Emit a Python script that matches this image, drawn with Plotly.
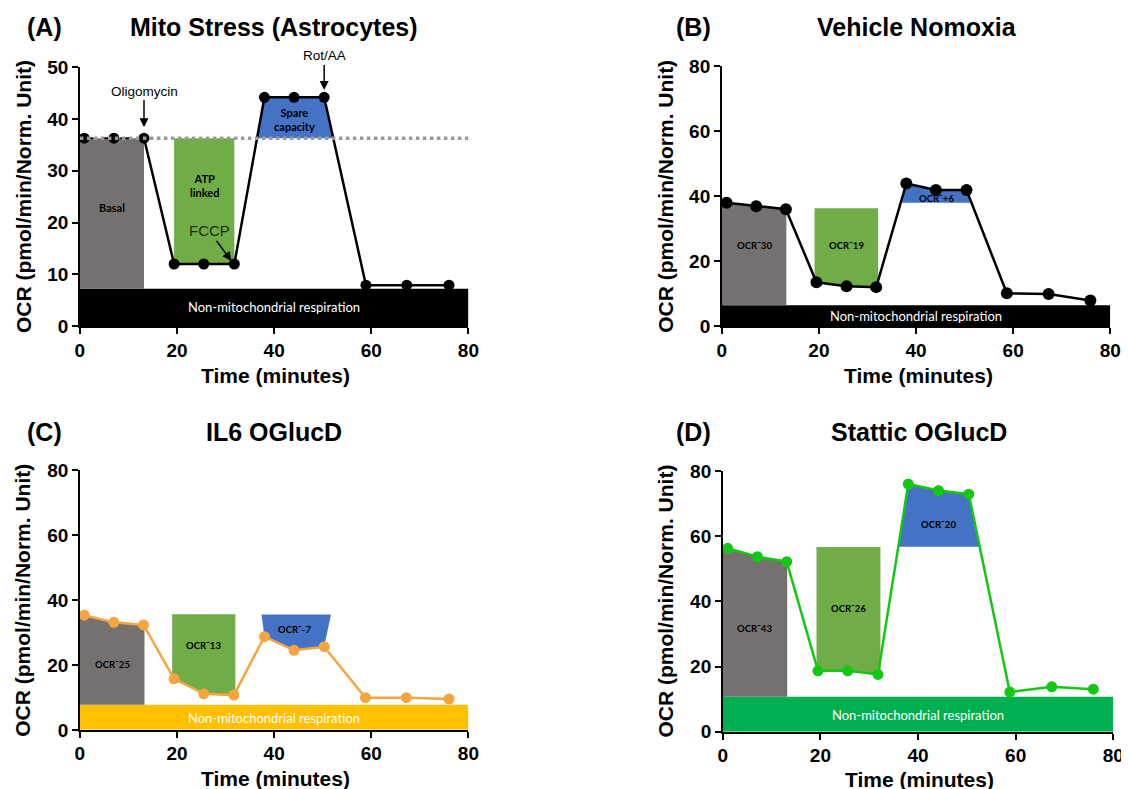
import plotly.graph_objects as go

# ---------------- data ----------------
time_A = [0.9, 7.0, 13.2, 19.4, 25.5, 31.8, 38.0, 44.1, 50.3, 58.9, 67.3, 76.0]
ocr_A = [36.3, 36.3, 36.3, 12.0, 12.0, 12.0, 44.2, 44.2, 44.2, 7.9, 7.9, 7.9]
time_B = [1.0, 7.1, 13.2, 19.5, 25.7, 31.8, 38.0, 44.1, 50.4, 58.7, 67.3, 75.9]
ocr_B = [38.0, 36.9, 36.0, 13.5, 12.3, 12.0, 43.9, 41.9, 41.9, 10.1, 9.9, 7.9]
time_C = [0.9, 7.0, 13.1, 19.4, 25.5, 31.7, 38.0, 44.1, 50.3, 58.8, 67.2, 76.0]
ocr_C = [35.3, 33.1, 32.3, 15.7, 11.1, 10.7, 28.7, 24.5, 25.6, 9.9, 9.9, 9.5]
time_D = [1.0, 7.1, 13.1, 19.5, 25.6, 31.8, 38.0, 44.2, 50.4, 58.8, 67.4, 75.9]
ocr_D = [56.3, 53.7, 52.2, 18.7, 18.7, 17.6, 76.0, 74.0, 72.9, 12.2, 13.8, 13.1]

panel_letters = ["(A)", "(B)", "(C)", "(D)"]
panel_titles = ["Mito Stress (Astrocytes)", "Vehicle Nomoxia", "IL6 OGlucD", "Stattic OGlucD"]
y_max = [50, 80, 80, 80]
y_ticks = [[0, 10, 20, 30, 40, 50], [0, 20, 40, 60, 80], [0, 20, 40, 60, 80], [0, 20, 40, 60, 80]]
x_ticks = [0, 20, 40, 60, 80]

# region levels
nonmito_top = [7.2, 6.4, 7.7, 10.8]
basal_right = [13.2, 13.3, 13.3, 13.2]
atp_left = [19.4, 19.1, 19.0, 19.2]
atp_right = [31.8, 32.2, 32.0, 32.3]
atp_top = [36.3, 36.3, 35.6, 56.7]
spare_left = [36.5, 37.0, 37.4, 36.0]
spare_right = [52.2, 51.2, 51.7, 52.6]
spare_base = [36.3, 38.0, 35.5, 56.8]

basal_labels = ["Basal", "OCR\u02dc30", "OCR\u02dc25", "OCR\u02dc43"]
basal_label_y = [22.9, 24.7, 20.0, 31.7]
atp_labels = ["ATP<br>linked", "OCR\u02dc19", "OCR\u02dc13", "OCR\u02dc26"]
atp_label_y = [27.2, 24.7, 25.9, 37.9]
spare_labels = ["Spare<br>capacity", "OCR\u02dc+6", "OCR\u02dc-7", "OCR\u02dc20"]
spare_label_y = [40.0, 39.4, 31.0, 63.6]
nonmito_label_y = [3.7, 3.1, 3.8, 5.3]

line_colors = ["#000000", "#000000", "#F5A540", "#13C813"]
nonmito_colors = ["#000000", "#000000", "#FFC000", "#00B050"]
basal_color = "#767171"
atp_color = "#70AD47"
spare_color = "#4472C4"

times = [time_A, time_B, time_C, time_D]
ocrs = [ocr_A, ocr_B, ocr_C, ocr_D]

W, H = 1129, 789
# calibration of rendered page vs layout pixels
OX, SX, OY, SY = 13.2, 0.9845, 17.7, 0.974


def fx(px):
    return (px - OX) / SX / W


def fy(py):
    return 1 - (py - OY) / SY / H


# plot boxes in target pixels: left, right, top, bottom
boxes_px = [(80, 468, 67, 326), (721, 1109, 66, 326), (80, 468, 470, 730), (722, 1112, 471, 732)]
title_px = [(45, 274, 27), (693, 916, 27), (45, 274, 432), (693, 918, 432)]
ytitle_px = [(23, 196), (665, 196), (23, 600), (665, 601)]
xtitle_px = [(275, 375), (917, 375), (275, 779), (918, 780)]

fig = go.Figure()
annotations = []

for i in range(4):
    xa = "x" if i == 0 else f"x{i+1}"
    ya = "y" if i == 0 else f"y{i+1}"
    t = times[i]
    v = ocrs[i]
    nm = nonmito_top[i]
    l, r, tp, bt = boxes_px[i]

    fig.add_trace(go.Scatter(x=[0, 80, 80, 0, 0], y=[0, 0, nm, nm, 0], fill="toself",
                             fillcolor=nonmito_colors[i], mode="none", xaxis=xa, yaxis=ya,
                             showlegend=False, hoverinfo="skip"))
    bx = [0, 0] + t[0:3] + [basal_right[i], basal_right[i], 0]
    by = [nm, v[0]] + v[0:3] + [v[2], nm, nm]
    fig.add_trace(go.Scatter(x=bx, y=by, fill="toself", fillcolor=basal_color, mode="none",
                             xaxis=xa, yaxis=ya, showlegend=False, hoverinfo="skip"))
    ax_ = [atp_left[i], atp_right[i], atp_right[i], t[5], t[4], t[3], atp_left[i], atp_left[i]]
    ay_ = [atp_top[i], atp_top[i], v[5], v[5], v[4], v[3], v[3], atp_top[i]]
    fig.add_trace(go.Scatter(x=ax_, y=ay_, fill="toself", fillcolor=atp_color, mode="none",
                             xaxis=xa, yaxis=ya, showlegend=False, hoverinfo="skip"))
    sx = [spare_left[i]] + t[6:9] + [spare_right[i], spare_left[i]]
    sy = [spare_base[i]] + v[6:9] + [spare_base[i], spare_base[i]]
    fig.add_trace(go.Scatter(x=sx, y=sy, fill="toself", fillcolor=spare_color, mode="none",
                             xaxis=xa, yaxis=ya, showlegend=False, hoverinfo="skip"))

    if i == 0:
        fig.add_trace(go.Scatter(x=t[0:3], y=v[0:3], mode="lines",
                                 line=dict(color="#000000", width=2, dash="dash"),
                                 xaxis=xa, yaxis=ya, showlegend=False, hoverinfo="skip"))
        fig.add_trace(go.Scatter(x=t[2:], y=v[2:], mode="lines",
                                 line=dict(color="#000000", width=2.5),
                                 xaxis=xa, yaxis=ya, showlegend=False, hoverinfo="skip"))
        fig.add_trace(go.Scatter(x=t, y=v, mode="markers",
                                 marker=dict(color="#000000", size=11),
                                 xaxis=xa, yaxis=ya, showlegend=False))
        fig.add_trace(go.Scatter(x=[0, 80], y=[v[0], v[0]], mode="lines",
                                 line=dict(color="#9a9a9a", width=3.5, dash="dot"),
                                 xaxis=xa, yaxis=ya, showlegend=False, hoverinfo="skip"))
    else:
        fig.add_trace(go.Scatter(x=t, y=v, mode="lines+markers",
                                 line=dict(color=line_colors[i], width=2.5),
                                 marker=dict(color=line_colors[i], size=12 if i == 1 else 11),
                                 xaxis=xa, yaxis=ya, showlegend=False))

    axis_common = dict(showline=True, linecolor="black", linewidth=1.5, ticks="outside",
                       ticklen=6, tickwidth=1.5, tickcolor="black", showgrid=False, zeroline=False,
                       tickfont=dict(family="Liberation Sans, Arial", size=19, color="black", weight="bold"))
    fig.update_layout(**{
        ("xaxis" if i == 0 else f"xaxis{i+1}"): dict(domain=[fx(l), fx(r)], anchor=ya, range=[0, 80],
                                                     tickvals=x_ticks, **axis_common),
        ("yaxis" if i == 0 else f"yaxis{i+1}"): dict(domain=[fy(bt), fy(tp)], anchor=xa, range=[0, y_max[i]],
                                                     tickvals=y_ticks[i], **axis_common),
    })

    inner_font = dict(family="Lato, Open Sans, sans-serif", color="black", weight="bold",
                      size=11 if i == 0 else 9.5)
    annotations += [
        dict(x=basal_right[i] / 2, y=basal_label_y[i], xref=xa, yref=ya, text=basal_labels[i],
             showarrow=False, font=inner_font),
        dict(x=(atp_left[i] + atp_right[i]) / 2, y=atp_label_y[i], xref=xa, yref=ya, text=atp_labels[i],
             showarrow=False, font=inner_font),
        dict(x=44.2, y=spare_label_y[i], xref=xa, yref=ya, text=spare_labels[i],
             showarrow=False, font=inner_font),
        dict(x=40, y=nonmito_label_y[i], xref=xa, yref=ya, text="Non-mitochondrial respiration",
             showarrow=False, font=dict(family="Lato, Open Sans, sans-serif", color="white", size=13)),
    ]

    big = dict(family="Liberation Sans, Arial", size=25, color="black", weight="bold")
    lab = dict(family="Liberation Sans, Arial", size=21, color="black", weight="bold")
    lx, tx, ty = title_px[i]
    yx, yy = ytitle_px[i]
    xx, xy = xtitle_px[i]
    annotations += [
        dict(x=fx(lx), y=fy(ty), xref="paper", yref="paper", xanchor="center", yanchor="middle",
             text=panel_letters[i], showarrow=False, font=big),
        dict(x=fx(tx), y=fy(ty), xref="paper", yref="paper", xanchor="center", yanchor="middle",
             text=panel_titles[i], showarrow=False, font=big),
        dict(x=fx(yx), y=fy(yy), xref="paper", yref="paper", xanchor="center", yanchor="middle",
             text="OCR (pmol/min/Norm. Unit)", textangle=-90, showarrow=False, font=lab),
        dict(x=fx(xx), y=fy(xy), xref="paper", yref="paper", xanchor="center", yanchor="middle",
             text="Time (minutes)", showarrow=False, font=lab),
    ]

arrow_font = dict(family="Liberation Sans, Arial", size=13.5, color="black")
annotations += [
    dict(x=time_A[2], y=38.4, ax=time_A[2], ay=45.4, xref="x", yref="y", axref="x", ayref="y",
         text="Oligomycin", showarrow=True, arrowhead=2, arrowsize=1.2, arrowwidth=1.5,
         arrowcolor="black", font=arrow_font),
    dict(x=time_A[8], y=45.6, ax=time_A[8], ay=52.2, xref="x", yref="y", axref="x", ayref="y",
         text="Rot/AA", showarrow=True, arrowhead=2, arrowsize=1.2, arrowwidth=1.5,
         arrowcolor="black", font=arrow_font),
    dict(x=31.2, y=12.6, ax=26.6, ay=18.4, xref="x", yref="y", axref="x", ayref="y",
         text="FCCP", showarrow=True, arrowhead=2, arrowsize=1.2, arrowwidth=1.5,
         arrowcolor="black", font=dict(family="Liberation Sans, Arial", size=15, color="#1a2e12")),
]

fig.update_layout(width=W, height=H, autosize=False, margin=dict(l=0, r=0, t=0, b=0),
                  plot_bgcolor="white", paper_bgcolor="white", annotations=annotations,
                  showlegend=False)

fig.write_html("out.html")
